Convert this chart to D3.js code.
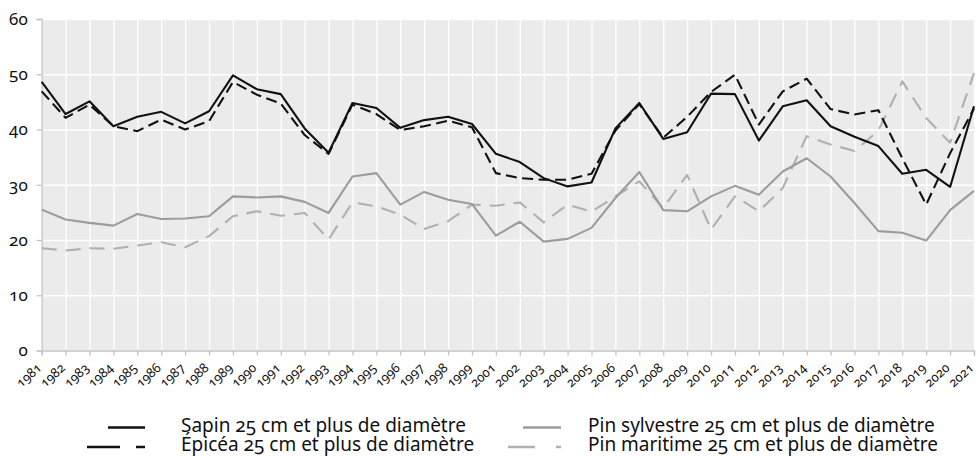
<!DOCTYPE html>
<html>
<head>
<meta charset="utf-8">
<script src="https://cdn.jsdelivr.net/npm/d3@7"></script>
<style>
  body { margin: 0; background: #fff; }
  svg { display: block; font-family: "Noto Sans", "Open Sans", sans-serif; }
  svg text { font-variant-numeric: oldstyle-nums; font-feature-settings: "onum" 1; }
</style>
</head>
<body>
<svg id="chart" width="978" height="456"></svg>
<script>
// categories (2000 is absent from the source)
const years = ['1981','1982','1983','1984','1985','1986','1987','1988','1989','1990',
  '1991','1992','1993','1994','1995','1996','1997','1998','1999',
  '2001','2002','2003','2004','2005','2006','2007','2008','2009','2010',
  '2011','2012','2013','2014','2015','2016','2017','2018','2019','2020','2021'];

const sapin = [48.6, 42.8, 45.1, 40.6, 42.3, 43.2, 41.1, 43.3, 49.8, 47.3,
  46.4, 40.2, 35.8, 44.8, 43.9, 40.3, 41.7, 42.3, 41.0,
  35.6, 34.1, 31.2, 29.7, 30.4, 40.2, 44.8, 38.3, 39.5, 46.5,
  46.4, 38.0, 44.2, 45.3, 40.6, 38.7, 37.0, 32.0, 32.7, 29.6, 44.2];

const epicea = [46.9, 42.1, 44.5, 40.6, 39.7, 41.8, 40.0, 41.5, 48.6, 46.3,
  44.7, 39.0, 35.6, 44.5, 42.8, 39.9, 40.6, 41.6, 40.4,
  32.1, 31.2, 30.9, 30.9, 32.0, 39.8, 44.6, 38.5, 42.3, 46.8,
  49.9, 40.9, 46.9, 49.2, 43.7, 42.7, 43.5, 34.8, 26.4, 35.7, 43.8];

const pinSylvestre = [25.5, 23.7, 23.1, 22.6, 24.7, 23.8, 23.9, 24.3, 27.9, 27.7,
  27.9, 26.9, 24.9, 31.5, 32.1, 26.4, 28.7, 27.3, 26.5,
  20.8, 23.3, 19.7, 20.2, 22.2, 27.6, 32.3, 25.4, 25.2, 27.9,
  29.8, 28.2, 32.4, 34.8, 31.5, 26.7, 21.6, 21.3, 19.9, 25.4, 28.9];

const pinMaritime = [18.5, 18.1, 18.5, 18.4, 19.0, 19.6, 18.7, 20.7, 24.3, 25.2,
  24.4, 24.9, 20.1, 26.8, 26.1, 24.6, 22.0, 23.4, 26.4,
  26.2, 26.8, 23.2, 26.4, 25.1, 27.9, 30.6, 25.8, 31.8, 21.9,
  27.9, 25.2, 29.4, 38.8, 37.3, 36.1, 39.8, 48.7, 42.1, 37.6, 50.2];

const yTicks = [0, 10, 20, 30, 40, 50, 60];

const seriesNames = [
  'Sapin 25 cm et plus de diamètre',
  'Épicéa 25 cm et plus de diamètre',
  'Pin sylvestre 25 cm et plus de diamètre',
  'Pin maritime 25 cm et plus de diamètre'
];

const series = [
  { name: seriesNames[0], values: sapin, color: '#111', dash: null, legendDash: null },
  { name: seriesNames[1], values: epicea, color: '#111', dash: '11,5.5', legendDash: '33,16' },
  { name: seriesNames[2], values: pinSylvestre, color: '#9c9c9c', dash: null, legendDash: null },
  { name: seriesNames[3], values: pinMaritime, color: '#b0b0b0', dash: '15,9', legendDash: '27,21' }
];

const svg = d3.select('#chart');
const plotLeft = 41.7, plotRight = 974, plotTop = 19, plotBottom = 350.5;

const x = d3.scalePoint().domain(years).range([plotLeft, plotRight]);
const y = d3.scaleLinear().domain([0, 60]).range([plotBottom, plotTop]);

// panel
svg.append('rect')
  .attr('x', plotLeft).attr('y', plotTop)
  .attr('width', plotRight - plotLeft).attr('height', plotBottom - plotTop)
  .attr('fill', '#ebebeb');

// grid
svg.append('g')
  .attr('transform', `translate(0,${plotBottom})`)
  .call(d3.axisBottom(x).tickSize(-(plotBottom - plotTop)).tickFormat(''))
  .call(g => g.select('.domain').remove())
  .call(g => g.selectAll('line').attr('stroke', '#fff').attr('stroke-width', 1.3));

svg.append('g')
  .attr('transform', `translate(${plotLeft},0)`)
  .call(d3.axisLeft(y).tickValues(yTicks).tickSize(-(plotRight - plotLeft)).tickFormat(''))
  .call(g => g.select('.domain').remove())
  .call(g => g.selectAll('line').attr('stroke', '#fff').attr('stroke-width', 1.3));

// axes
svg.append('g')
  .attr('transform', `translate(${plotLeft},0)`)
  .call(d3.axisLeft(y).tickValues(yTicks).tickSize(5).tickPadding(9))
  .call(g => g.select('.domain').attr('stroke', '#c4c4c4').attr('stroke-width', 1.3))
  .call(g => g.selectAll('line').attr('stroke', '#c4c4c4').attr('stroke-width', 1.3))
  .call(g => g.selectAll('text')
    .attr('font-size', 17).attr('fill', '#111')
    .attr('font-family', '"Noto Sans", sans-serif'));

svg.append('g')
  .attr('transform', `translate(0,${plotBottom})`)
  .call(d3.axisBottom(x).tickSize(5))
  .call(g => g.select('.domain').attr('stroke', '#c4c4c4').attr('stroke-width', 1.3))
  .call(g => g.selectAll('line').attr('stroke', '#c4c4c4').attr('stroke-width', 1.3))
  .call(g => g.selectAll('text')
    .attr('font-size', 13).attr('fill', '#111')
    .attr('font-family', '"Noto Sans", sans-serif')
    .attr('y', 0).attr('dy', '0.35em')
    .attr('text-anchor', 'end')
    .attr('transform', 'translate(-3,15) rotate(-42)'));

// lines
const line = d3.line()
  .x((d, i) => x(years[i]))
  .y(d => y(d));

// draw grey series first, black on top
[series[3], series[2], series[1], series[0]].forEach(s => {
  svg.append('path')
    .datum(s.values)
    .attr('fill', 'none')
    .attr('stroke', s.color)
    .attr('stroke-width', 2.1)
    .attr('stroke-dasharray', s.dash)
    .attr('stroke-linejoin', 'round')
    .attr('d', line);
});

// legend
const legendPos = [
  { lx1: 108, lx2: 145, tx: 181, ty: 431.5 },
  { lx1: 87, lx2: 145, tx: 181, ty: 451 },
  { lx1: 523, lx2: 561, tx: 588, ty: 431.5 },
  { lx1: 508, lx2: 561, tx: 588, ty: 451 }
];

const legend = svg.append('g');
series.forEach((s, i) => {
  const p = legendPos[i];
  legend.append('line')
    .attr('x1', p.lx1).attr('x2', p.lx2)
    .attr('y1', p.ty - 4).attr('y2', p.ty - 4)
    .attr('stroke', s.color)
    .attr('stroke-width', 2.6)
    .attr('stroke-dasharray', s.legendDash);
  legend.append('text')
    .attr('x', p.tx).attr('y', p.ty)
    .attr('font-size', 19)
    .attr('fill', '#111')
    .text(s.name);
});
</script>
</body>
</html>
